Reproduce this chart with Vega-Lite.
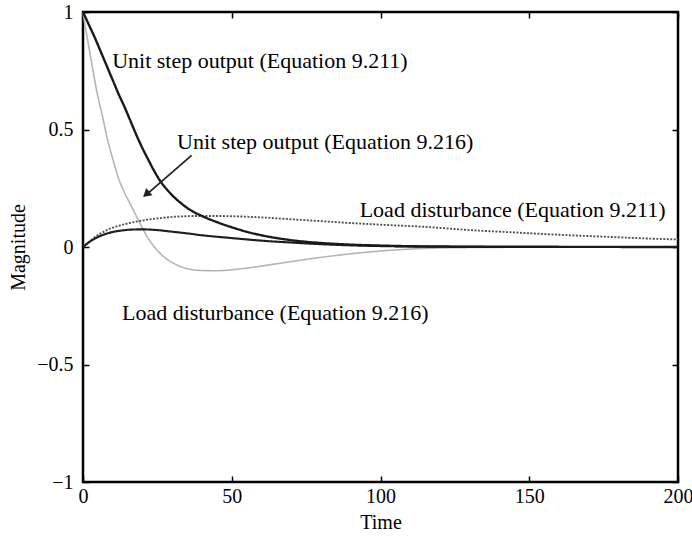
{
  "$schema": "https://vega.github.io/schema/vega-lite/v6.json",
  "width": 595,
  "height": 470,
  "autosize": "none",
  "padding": {"left": 83, "top": 12, "right": 14, "bottom": 55},
  "background": "white",
  "config": {
    "view": {"stroke": "black", "strokeWidth": 2.5},
    "font": "Liberation Serif",
    "axis": {
      "domain": false,
      "grid": false,
      "tickColor": "black",
      "tickWidth": 1.5,
      "tickSize": -6,
      "labelFont": "Liberation Serif",
      "labelFontSize": 20,
      "labelColor": "black",
      "labelFlush": false,
      "labelOverlap": false,
      "titleFont": "Liberation Serif",
      "titleFontSize": 20,
      "titleFontWeight": "normal",
      "titleColor": "black"
    }
  },
  "datasets": {
    "curves": [
      {"t": 0, "y": 1, "s": "Unit step output (Equation 9.216)"},
      {"t": 1, "y": 0.92, "s": "Unit step output (Equation 9.216)"},
      {"t": 2, "y": 0.85, "s": "Unit step output (Equation 9.216)"},
      {"t": 3.5, "y": 0.74, "s": "Unit step output (Equation 9.216)"},
      {"t": 5, "y": 0.64, "s": "Unit step output (Equation 9.216)"},
      {"t": 6.5, "y": 0.56, "s": "Unit step output (Equation 9.216)"},
      {"t": 8, "y": 0.47, "s": "Unit step output (Equation 9.216)"},
      {"t": 10, "y": 0.375, "s": "Unit step output (Equation 9.216)"},
      {"t": 12, "y": 0.29, "s": "Unit step output (Equation 9.216)"},
      {"t": 14, "y": 0.23, "s": "Unit step output (Equation 9.216)"},
      {"t": 16, "y": 0.18, "s": "Unit step output (Equation 9.216)"},
      {"t": 18, "y": 0.13, "s": "Unit step output (Equation 9.216)"},
      {"t": 20, "y": 0.08, "s": "Unit step output (Equation 9.216)"},
      {"t": 22, "y": 0.035, "s": "Unit step output (Equation 9.216)"},
      {"t": 24, "y": 0.0, "s": "Unit step output (Equation 9.216)"},
      {"t": 27, "y": -0.04, "s": "Unit step output (Equation 9.216)"},
      {"t": 30, "y": -0.066, "s": "Unit step output (Equation 9.216)"},
      {"t": 33, "y": -0.084, "s": "Unit step output (Equation 9.216)"},
      {"t": 36, "y": -0.095, "s": "Unit step output (Equation 9.216)"},
      {"t": 40, "y": -0.1, "s": "Unit step output (Equation 9.216)"},
      {"t": 45, "y": -0.101, "s": "Unit step output (Equation 9.216)"},
      {"t": 50, "y": -0.097, "s": "Unit step output (Equation 9.216)"},
      {"t": 55, "y": -0.09, "s": "Unit step output (Equation 9.216)"},
      {"t": 60, "y": -0.081, "s": "Unit step output (Equation 9.216)"},
      {"t": 70, "y": -0.062, "s": "Unit step output (Equation 9.216)"},
      {"t": 80, "y": -0.044, "s": "Unit step output (Equation 9.216)"},
      {"t": 90, "y": -0.029, "s": "Unit step output (Equation 9.216)"},
      {"t": 100, "y": -0.017, "s": "Unit step output (Equation 9.216)"},
      {"t": 110, "y": -0.009, "s": "Unit step output (Equation 9.216)"},
      {"t": 125, "y": -0.003, "s": "Unit step output (Equation 9.216)"},
      {"t": 150, "y": -0.001, "s": "Unit step output (Equation 9.216)"},
      {"t": 200, "y": 0, "s": "Unit step output (Equation 9.216)"},

      {"t": 0, "y": 0, "s": "Load disturbance (Equation 9.211)"},
      {"t": 2, "y": 0.022, "s": "Load disturbance (Equation 9.211)"},
      {"t": 4, "y": 0.042, "s": "Load disturbance (Equation 9.211)"},
      {"t": 6, "y": 0.058, "s": "Load disturbance (Equation 9.211)"},
      {"t": 8, "y": 0.072, "s": "Load disturbance (Equation 9.211)"},
      {"t": 10, "y": 0.082, "s": "Load disturbance (Equation 9.211)"},
      {"t": 14, "y": 0.097, "s": "Load disturbance (Equation 9.211)"},
      {"t": 18, "y": 0.108, "s": "Load disturbance (Equation 9.211)"},
      {"t": 22, "y": 0.117, "s": "Load disturbance (Equation 9.211)"},
      {"t": 26, "y": 0.123, "s": "Load disturbance (Equation 9.211)"},
      {"t": 30, "y": 0.128, "s": "Load disturbance (Equation 9.211)"},
      {"t": 35, "y": 0.131, "s": "Load disturbance (Equation 9.211)"},
      {"t": 40, "y": 0.132, "s": "Load disturbance (Equation 9.211)"},
      {"t": 45, "y": 0.132, "s": "Load disturbance (Equation 9.211)"},
      {"t": 50, "y": 0.131, "s": "Load disturbance (Equation 9.211)"},
      {"t": 60, "y": 0.126, "s": "Load disturbance (Equation 9.211)"},
      {"t": 70, "y": 0.118, "s": "Load disturbance (Equation 9.211)"},
      {"t": 80, "y": 0.11, "s": "Load disturbance (Equation 9.211)"},
      {"t": 90, "y": 0.102, "s": "Load disturbance (Equation 9.211)"},
      {"t": 100, "y": 0.095, "s": "Load disturbance (Equation 9.211)"},
      {"t": 116, "y": 0.085, "s": "Load disturbance (Equation 9.211)"},
      {"t": 130, "y": 0.072, "s": "Load disturbance (Equation 9.211)"},
      {"t": 145, "y": 0.062, "s": "Load disturbance (Equation 9.211)"},
      {"t": 160, "y": 0.052, "s": "Load disturbance (Equation 9.211)"},
      {"t": 175, "y": 0.044, "s": "Load disturbance (Equation 9.211)"},
      {"t": 190, "y": 0.036, "s": "Load disturbance (Equation 9.211)"},
      {"t": 200, "y": 0.032, "s": "Load disturbance (Equation 9.211)"},

      {"t": 0, "y": 0, "s": "Load disturbance (Equation 9.216)"},
      {"t": 2, "y": 0.02, "s": "Load disturbance (Equation 9.216)"},
      {"t": 4, "y": 0.036, "s": "Load disturbance (Equation 9.216)"},
      {"t": 6, "y": 0.048, "s": "Load disturbance (Equation 9.216)"},
      {"t": 8, "y": 0.057, "s": "Load disturbance (Equation 9.216)"},
      {"t": 10, "y": 0.064, "s": "Load disturbance (Equation 9.216)"},
      {"t": 13, "y": 0.07, "s": "Load disturbance (Equation 9.216)"},
      {"t": 16, "y": 0.074, "s": "Load disturbance (Equation 9.216)"},
      {"t": 20, "y": 0.075, "s": "Load disturbance (Equation 9.216)"},
      {"t": 25, "y": 0.072, "s": "Load disturbance (Equation 9.216)"},
      {"t": 30, "y": 0.065, "s": "Load disturbance (Equation 9.216)"},
      {"t": 35, "y": 0.058, "s": "Load disturbance (Equation 9.216)"},
      {"t": 40, "y": 0.05, "s": "Load disturbance (Equation 9.216)"},
      {"t": 50, "y": 0.038, "s": "Load disturbance (Equation 9.216)"},
      {"t": 60, "y": 0.027, "s": "Load disturbance (Equation 9.216)"},
      {"t": 70, "y": 0.019, "s": "Load disturbance (Equation 9.216)"},
      {"t": 80, "y": 0.012, "s": "Load disturbance (Equation 9.216)"},
      {"t": 90, "y": 0.007, "s": "Load disturbance (Equation 9.216)"},
      {"t": 100, "y": 0.004, "s": "Load disturbance (Equation 9.216)"},
      {"t": 120, "y": 0.001, "s": "Load disturbance (Equation 9.216)"},
      {"t": 150, "y": 0, "s": "Load disturbance (Equation 9.216)"},
      {"t": 200, "y": 0, "s": "Load disturbance (Equation 9.216)"},

      {"t": 0, "y": 1, "s": "Unit step output (Equation 9.211)"},
      {"t": 2, "y": 0.945, "s": "Unit step output (Equation 9.211)"},
      {"t": 4, "y": 0.89, "s": "Unit step output (Equation 9.211)"},
      {"t": 6, "y": 0.83, "s": "Unit step output (Equation 9.211)"},
      {"t": 8, "y": 0.77, "s": "Unit step output (Equation 9.211)"},
      {"t": 10, "y": 0.71, "s": "Unit step output (Equation 9.211)"},
      {"t": 12, "y": 0.65, "s": "Unit step output (Equation 9.211)"},
      {"t": 14, "y": 0.595, "s": "Unit step output (Equation 9.211)"},
      {"t": 16, "y": 0.535, "s": "Unit step output (Equation 9.211)"},
      {"t": 18, "y": 0.475, "s": "Unit step output (Equation 9.211)"},
      {"t": 20, "y": 0.42, "s": "Unit step output (Equation 9.211)"},
      {"t": 22, "y": 0.37, "s": "Unit step output (Equation 9.211)"},
      {"t": 24, "y": 0.322, "s": "Unit step output (Equation 9.211)"},
      {"t": 26, "y": 0.28, "s": "Unit step output (Equation 9.211)"},
      {"t": 28, "y": 0.248, "s": "Unit step output (Equation 9.211)"},
      {"t": 30, "y": 0.22, "s": "Unit step output (Equation 9.211)"},
      {"t": 33, "y": 0.186, "s": "Unit step output (Equation 9.211)"},
      {"t": 36, "y": 0.158, "s": "Unit step output (Equation 9.211)"},
      {"t": 40, "y": 0.132, "s": "Unit step output (Equation 9.211)"},
      {"t": 45, "y": 0.106, "s": "Unit step output (Equation 9.211)"},
      {"t": 50, "y": 0.084, "s": "Unit step output (Equation 9.211)"},
      {"t": 55, "y": 0.065, "s": "Unit step output (Equation 9.211)"},
      {"t": 60, "y": 0.05, "s": "Unit step output (Equation 9.211)"},
      {"t": 70, "y": 0.029, "s": "Unit step output (Equation 9.211)"},
      {"t": 80, "y": 0.017, "s": "Unit step output (Equation 9.211)"},
      {"t": 90, "y": 0.01, "s": "Unit step output (Equation 9.211)"},
      {"t": 100, "y": 0.006, "s": "Unit step output (Equation 9.211)"},
      {"t": 120, "y": 0.002, "s": "Unit step output (Equation 9.211)"},
      {"t": 150, "y": 0.001, "s": "Unit step output (Equation 9.211)"},
      {"t": 200, "y": 0, "s": "Unit step output (Equation 9.211)"}
    ],
    "labels": [
      {"t": 9.8, "y": 0.79, "label": "Unit step output (Equation 9.211)"},
      {"t": 31.6, "y": 0.447, "label": "Unit step output (Equation 9.216)"},
      {"t": 93, "y": 0.157, "label": "Load disturbance (Equation 9.211)"},
      {"t": 13.1, "y": -0.281, "label": "Load disturbance (Equation 9.216)"}
    ],
    "arrow": [
      {"t": 36.5, "y": 0.39, "t2": 21.8, "y2": 0.228}
    ],
    "arrowhead": [
      {"t": 21.6, "y": 0.228}
    ]
  },
  "layer": [
    {
      "data": {"name": "curves"},
      "mark": {"type": "line", "interpolate": "monotone"},
      "encoding": {
        "x": {
          "field": "t", "type": "quantitative",
          "scale": {"domain": [0, 200], "nice": false, "zero": false},
          "axis": {"orient": "bottom", "values": [0, 50, 100, 150, 200], "title": "Time", "labelPadding": 10, "titlePadding": 6}
        },
        "y": {
          "field": "y", "type": "quantitative",
          "scale": {"domain": [-1, 1], "nice": false, "zero": false},
          "axis": {"orient": "left", "values": [-1, -0.5, 0, 0.5, 1], "format": "~g", "title": "Magnitude", "labelPadding": 16, "titlePadding": 8}
        },
        "detail": {"field": "s"},
        "color": {
          "field": "s", "type": "nominal", "legend": null,
          "scale": {
            "domain": ["Unit step output (Equation 9.216)", "Load disturbance (Equation 9.211)", "Load disturbance (Equation 9.216)", "Unit step output (Equation 9.211)"],
            "range": ["#b4b4b4", "#505050", "#1e1e1e", "#1a1a1a"]
          }
        },
        "strokeDash": {
          "field": "s", "type": "nominal", "legend": null,
          "scale": {
            "domain": ["Unit step output (Equation 9.216)", "Load disturbance (Equation 9.211)", "Load disturbance (Equation 9.216)", "Unit step output (Equation 9.211)"],
            "range": [[1, 0], [2, 1.5], [1, 0], [1, 0]]
          }
        },
        "strokeWidth": {
          "field": "s", "type": "nominal", "legend": null,
          "scale": {
            "domain": ["Unit step output (Equation 9.216)", "Load disturbance (Equation 9.211)", "Load disturbance (Equation 9.216)", "Unit step output (Equation 9.211)"],
            "range": [1.6, 2.4, 1.8, 2.2]
          }
        },
        "order": {"field": "t", "type": "quantitative"}
      }
    },
    {
      "data": {"name": "arrow"},
      "mark": {"type": "rule", "color": "#222222", "strokeWidth": 1.8},
      "encoding": {
        "x": {
          "field": "t", "type": "quantitative",
          "scale": {"domain": [0, 200], "nice": false, "zero": false},
          "axis": {"orient": "top", "values": [0, 50, 100, 150, 200], "labels": false, "title": null}
        },
        "y": {
          "field": "y", "type": "quantitative",
          "scale": {"domain": [-1, 1], "nice": false, "zero": false},
          "axis": {"orient": "right", "values": [-1, -0.5, 0, 0.5, 1], "labels": false, "title": null}
        },
        "x2": {"field": "t2"},
        "y2": {"field": "y2"}
      }
    },
    {
      "data": {"name": "arrowhead"},
      "mark": {"type": "point", "shape": "triangle", "filled": true, "color": "#222222", "size": 90, "angle": 229, "opacity": 1},
      "encoding": {
        "x": {"field": "t", "type": "quantitative", "scale": {"domain": [0, 200], "nice": false, "zero": false}, "axis": null},
        "y": {"field": "y", "type": "quantitative", "scale": {"domain": [-1, 1], "nice": false, "zero": false}, "axis": null}
      }
    },
    {
      "data": {"name": "labels"},
      "mark": {"type": "text", "align": "left", "baseline": "middle", "font": "Liberation Serif", "fontSize": 22, "color": "black"},
      "encoding": {
        "x": {"field": "t", "type": "quantitative", "scale": {"domain": [0, 200], "nice": false, "zero": false}, "axis": null},
        "y": {"field": "y", "type": "quantitative", "scale": {"domain": [-1, 1], "nice": false, "zero": false}, "axis": null},
        "text": {"field": "label"}
      }
    }
  ],
  "resolve": {"axis": {"x": "independent", "y": "independent"}}
}
